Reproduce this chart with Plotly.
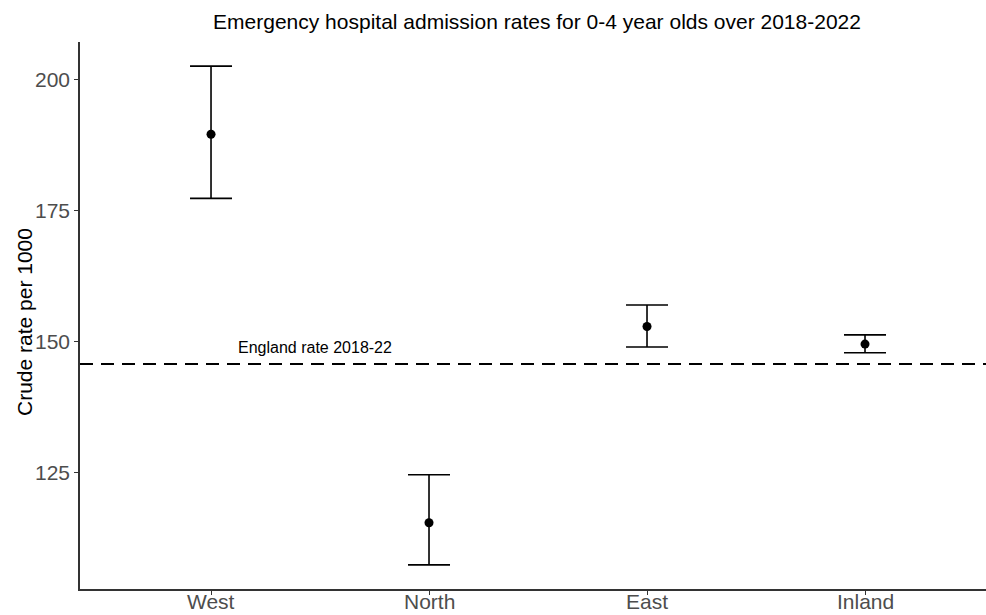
import plotly.graph_objects as go

regions = ["West", "North", "East", "Inland"]
rate = [189.6, 115.45, 152.9, 149.55]
lower = [177.35, 107.4, 149.0, 147.9]
upper = [202.6, 124.6, 157.0, 151.3]
england_rate = 145.75
england_label = "England rate 2018-22"
y_title = "Crude rate per 1000"

xi = list(range(len(regions)))

fig = go.Figure()
fig.add_trace(go.Scatter(
    x=xi, y=rate, mode="markers",
    marker=dict(color="black", size=9),
    error_y=dict(type="data", symmetric=False,
                 array=[u - r for u, r in zip(upper, rate)],
                 arrayminus=[r - l for r, l in zip(rate, lower)],
                 color="black", thickness=1.6, width=21),
    showlegend=False, hoverinfo="skip"))

fig.add_shape(type="line", xref="paper", x0=0, x1=1, yref="y",
              y0=england_rate, y1=england_rate,
              line=dict(color="black", width=2, dash="13px,8px"))
fig.add_annotation(x=0.479, y=england_rate, yshift=16, text=england_label,
                   showarrow=False, font=dict(size=16, color="black"),
                   xref="x", yref="y")
fig.add_annotation(x=(24 - 80) / 906, y=(589 - 322) / 547, xref="paper", yref="paper",
                   text=y_title, textangle=-90, showarrow=False,
                   xanchor="center", yanchor="middle",
                   font=dict(size=21, color="black"))
for i, name in zip(xi, regions):
    fig.add_annotation(x=i, y=(589 - 601) / 547, xref="x", yref="paper",
                       text=name, showarrow=False, xanchor="center", yanchor="middle",
                       font=dict(size=21, color="#4D4D4D"))

fig.update_layout(
    width=986, height=615,
    margin=dict(l=80, r=0, t=42, b=26),
    plot_bgcolor="white", paper_bgcolor="white",
    font=dict(family="Liberation Sans, Arial, sans-serif"),
    title=dict(text="Emergency hospital admission rates for 0-4 year olds over 2018-2022",
               x=537 / 986, xanchor="center", y=1 - 22 / 615, yanchor="middle",
               font=dict(size=21, color="black")),
    xaxis=dict(tickmode="array", tickvals=xi, ticktext=regions, showticklabels=False,
               range=[-0.601, 3.555], showgrid=False, zeroline=False,
               showline=True, linecolor="#333333", linewidth=1.5,
               ticks="outside", ticklen=4, tickcolor="#333333", automargin=False),
    yaxis=dict(range=[102.8, 207.2], tickvals=[125, 150, 175, 200],
               showgrid=False, zeroline=False,
               showline=True, linecolor="#333333", linewidth=1.5,
               ticks="outside", ticklen=4, tickcolor="#333333",
               tickfont=dict(size=21, color="#4D4D4D"), automargin=False),
)

fig.write_html("out.html")
